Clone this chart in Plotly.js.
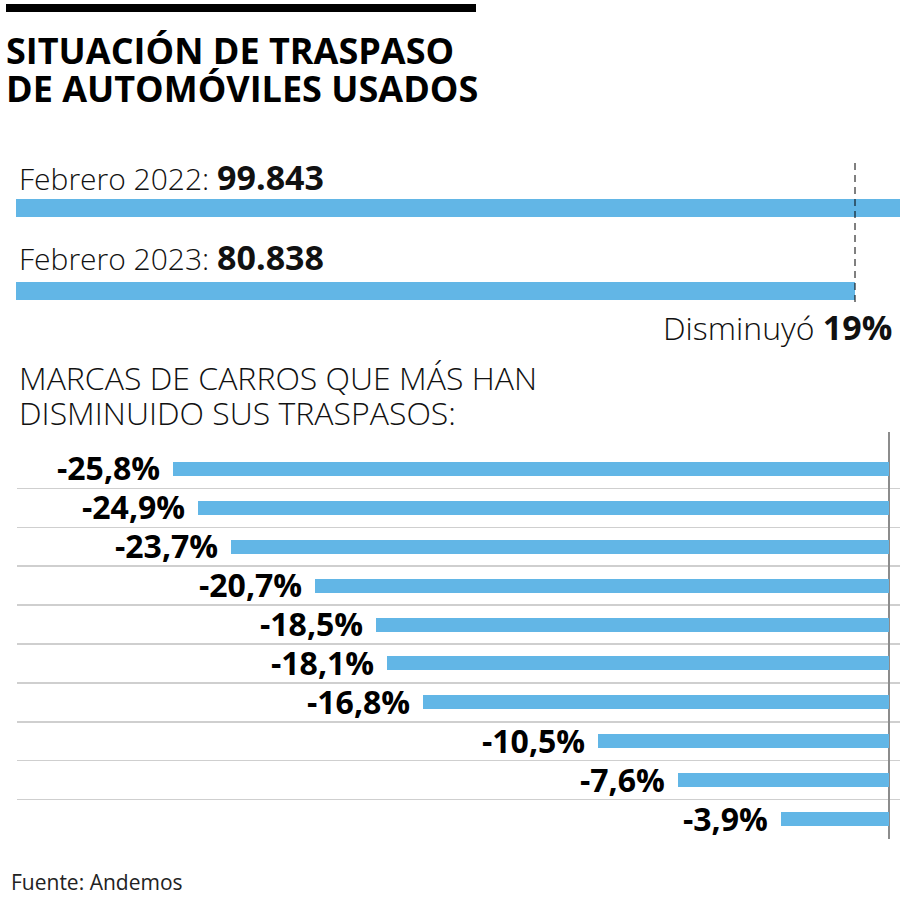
<!DOCTYPE html>
<html>
<head>
<meta charset="utf-8">
<script src="https://cdn.plot.ly/plotly-3.0.1.min.js"></script>
<style>html,body{margin:0;padding:0;background:#fff;}#chart{width:900px;height:900px;}</style>
</head>
<body>
<div id="chart"></div>
<script>
// ---- data ----
const titleLines = ['SITUACIÓN DE TRASPASO', 'DE AUTOMÓVILES USADOS'];
const periods = ['Febrero 2022', 'Febrero 2023'];
const transfers = [99843, 80838];
const transferLabels = ['99.843', '80.838'];
const declineLabel = '19%';
const subtitleLines = ['MARCAS DE CARROS QUE MÁS HAN', 'DISMINUIDO SUS TRASPASOS:'];
const brandRanks = ['1', '2', '3', '4', '5', '6', '7', '8', '9', '10'];
const changes = [-25.8, -24.9, -23.7, -20.7, -18.5, -18.1, -16.8, -10.5, -7.6, -3.9];
const changeLabels = ['-25,8%', '-24,9%', '-23,7%', '-20,7%', '-18,5%', '-18,1%', '-16,8%', '-10,5%', '-7,6%', '-3,9%'];
const source = 'Fuente: Andemos';

// ---- styling / geometry ----
const W = 900, H = 900;
const BLUE = '#62b6e6';
const FONT = 'Open Sans, Roboto, Liberation Sans, sans-serif';
const px = v => v / W;
const py = v => 1 - v / H;
// Open Sans: vertical centre of text box is ~0.388em above baseline
const mid = (baseline, size) => py(baseline - 0.388 * size);
const boldSpan = (t, size) => '<span style="font-size:' + size + 'px"><b>' + t + '</b></span>';

const rankPos = brandRanks.map((_, i) => i);
const periodPos = periods.map((_, i) => i);

const traces = [
  {
    type: 'bar', orientation: 'h',
    x: transfers, y: periodPos,
    xaxis: 'x2', yaxis: 'y2',
    width: 0.205,
    marker: {color: BLUE, line: {width: 0}},
    hoverinfo: 'skip'
  },
  {
    type: 'bar', orientation: 'h',
    x: changes, y: rankPos,
    xaxis: 'x', yaxis: 'y',
    width: 0.36,
    marker: {color: BLUE, line: {width: 0}},
    hoverinfo: 'skip'
  }
];

const annotations = [];
function addText(text, x, baseline, size, opts) {
  annotations.push(Object.assign({
    text: text, xref: 'paper', yref: 'paper',
    x: px(x), y: mid(baseline, size),
    xanchor: 'left', yanchor: 'middle',
    showarrow: false,
    font: {family: FONT, size: size, color: '#111111', weight: 300}
  }, opts || {}));
}
// Title
addText(titleLines[0], 4, 64, 36, {font: {family: FONT, size: 36, color: '#000', weight: 700}});
addText(titleLines[1], 4, 102, 36, {font: {family: FONT, size: 36, color: '#000', weight: 700}});
// period labels
addText(periods[0] + ': ' + boldSpan(transferLabels[0], 34), 17, 189, 30);
addText(periods[1] + ': ' + boldSpan(transferLabels[1], 34), 17, 269, 30);
addText('Disminuyó ' + boldSpan(declineLabel, 34), 894, 339, 32, {xanchor: 'right'});
// subtitle
addText(subtitleLines[0], 17, 390, 32);
addText(subtitleLines[1], 17, 425, 32);
// source
addText(source, 9, 890, 21, {font: {family: FONT, size: 21, color: '#222', weight: 400}});
// value labels beside bars
changes.forEach((v, i) => {
  annotations.push({
    text: changeLabels[i], xref: 'x', yref: 'y',
    x: v, y: rankPos[i], xanchor: 'right', yanchor: 'middle',
    xshift: -11, yshift: 1, showarrow: false,
    font: {family: FONT, size: 32, color: '#000', weight: 700}
  });
});

// top axis: bars are drawn as in the original graphic (not to linear scale)
const logTop = Math.log10(transfers[0]);
const topRange = [3.1979, logTop];

const layout = {
  width: W, height: H,
  margin: {l: 0, r: 0, t: 0, b: 0},
  paper_bgcolor: '#fff', plot_bgcolor: 'rgba(0,0,0,0)',
  showlegend: false,
  bargap: 0,
  xaxis: {
    domain: [px(17), 1], range: [-31.42, 0.396],
    showgrid: false, showticklabels: false, ticks: '',
    zeroline: true, zerolinecolor: '#8c8c8c', zerolinewidth: 2,
    fixedrange: true, anchor: 'y'
  },
  yaxis: {
    domain: [py(838.5), py(432)], range: [9.5, -0.95],
    tickmode: 'array', tickvals: brandRanks.slice(1).map((_, i) => i + 0.5),
    showticklabels: false, ticks: '',
    showgrid: true, gridcolor: '#cfcfcf', gridwidth: 1.5,
    zeroline: false, fixedrange: true, anchor: 'x'
  },
  xaxis2: {
    type: 'log', domain: [px(16), 1], range: topRange,
    showgrid: false, showticklabels: false, ticks: '', zeroline: false,
    fixedrange: true, anchor: 'y2'
  },
  yaxis2: {
    domain: [py(315.9), py(183.1)], range: [1.3, -0.3],
    showgrid: false, showticklabels: false, ticks: '', zeroline: false,
    fixedrange: true, anchor: 'x2'
  },
  shapes: [
    {type: 'rect', xref: 'paper', yref: 'paper', x0: px(6), x1: px(476), y0: py(12), y1: py(4),
     fillcolor: '#000', line: {width: 0}},
    {type: 'line', xref: 'x2', yref: 'paper', x0: transfers[1], x1: transfers[1], y0: py(302), y1: py(158),
     line: {color: '#000', width: 1, dash: '7px,5px'}}
  ],
  annotations: annotations
};

Plotly.newPlot('chart', traces, layout, {displayModeBar: false, staticPlot: true});
</script>
</body>
</html>
